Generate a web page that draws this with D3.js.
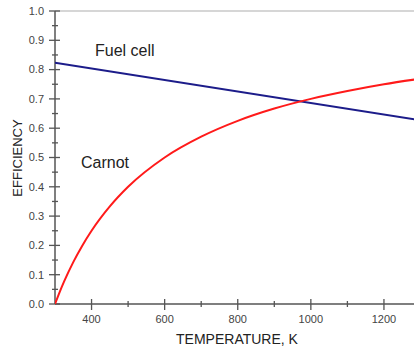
<!DOCTYPE html>
<html>
<head>
<meta charset="utf-8">
<script src="https://cdn.jsdelivr.net/npm/d3@7"></script>
<style>
  body { margin: 0; background: #fff; }
  svg { display: block; font-family: Arial, "Liberation Sans", sans-serif; }
</style>
</head>
<body>
<div id="chart"></div>
<script>
// values
const carnotT = [300, 310, 325, 350, 375, 400, 450, 500, 600, 700, 800, 900, 1000, 1100, 1200, 1300];
const carnotEff = [0, 0.032, 0.077, 0.143, 0.2, 0.25, 0.333, 0.4, 0.5, 0.571, 0.625, 0.667, 0.70, 0.727, 0.75, 0.769];
const fuelT = [300, 1300];
const fuelEff = [0.823, 0.627];
const xTicks = [400, 600, 800, 1000, 1200];
const yTicks = [0, 0.1, 0.2, 0.3, 0.4, 0.5, 0.6, 0.7, 0.8, 0.9, 1.0];

const width = 414, height = 350;
const x = d3.scaleLinear().domain([300, 1300]).range([55, 420.5]);
const y = d3.scaleLinear().domain([0, 1]).range([304, 11]);

const svg = d3.select("#chart").append("svg")
  .attr("width", width)
  .attr("height", height);

const axisColor = "#555";

// top frame line
svg.append("line")
  .attr("x1", x(300)).attr("x2", width)
  .attr("y1", y(1)).attr("y2", y(1))
  .attr("stroke", "#c8c8c8").attr("stroke-width", 1.5);

// y axis
const yAxis = svg.append("g");
yAxis.append("line")
  .attr("x1", x(300)).attr("x2", x(300))
  .attr("y1", y(0)).attr("y2", y(1))
  .attr("stroke", axisColor).attr("stroke-width", 1.5);
yAxis.selectAll(".major")
  .data(yTicks)
  .join("line")
  .attr("x1", x(300) - 6).attr("x2", x(300) + 5)
  .attr("y1", d => y(d)).attr("y2", d => y(d))
  .attr("stroke", axisColor).attr("stroke-width", 1.3);
yAxis.selectAll(".minor")
  .data(d3.range(0, 10).map(i => (i + 0.5) / 10))
  .join("line")
  .attr("x1", x(300) - 3).attr("x2", x(300) + 3)
  .attr("y1", d => y(d)).attr("y2", d => y(d))
  .attr("stroke", axisColor).attr("stroke-width", 1.3);
yAxis.selectAll("text")
  .data(yTicks)
  .join("text")
  .attr("x", x(300) - 11)
  .attr("y", d => y(d))
  .attr("dy", "0.35em")
  .attr("text-anchor", "end")
  .attr("font-size", 11)
  .attr("fill", "#444")
  .text(d3.format(".1f"));

// x axis
const xAxis = svg.append("g");
xAxis.append("line")
  .attr("x1", x(300)).attr("x2", width)
  .attr("y1", y(0)).attr("y2", y(0))
  .attr("stroke", axisColor).attr("stroke-width", 1.5);
xAxis.selectAll(".major")
  .data(xTicks)
  .join("line")
  .attr("x1", d => x(d)).attr("x2", d => x(d))
  .attr("y1", y(0) - 5).attr("y2", y(0) + 6)
  .attr("stroke", axisColor).attr("stroke-width", 1.3);
xAxis.selectAll(".minor")
  .data([500, 700, 900, 1100])
  .join("line")
  .attr("x1", d => x(d)).attr("x2", d => x(d))
  .attr("y1", y(0) - 3).attr("y2", y(0) + 3)
  .attr("stroke", axisColor).attr("stroke-width", 1.3);
xAxis.selectAll("text")
  .data(xTicks)
  .join("text")
  .attr("x", d => x(d))
  .attr("y", y(0) + 19)
  .attr("text-anchor", "middle")
  .attr("font-size", 11)
  .attr("fill", "#444")
  .text(d => d);

// axis titles
svg.append("text")
  .attr("x", 237).attr("y", 344)
  .attr("text-anchor", "middle")
  .attr("font-size", 14)
  .attr("fill", "#222")
  .text("TEMPERATURE, K");
svg.append("text")
  .attr("transform", `translate(22,158) rotate(-90)`)
  .attr("text-anchor", "middle")
  .attr("font-size", 13)
  .attr("fill", "#222")
  .text("EFFICIENCY");

// curves
svg.append("defs").append("clipPath").attr("id", "plot")
  .append("rect").attr("x", x(300)).attr("y", 0).attr("width", width).attr("height", y(0) + 1);

const line = d3.line()
  .x(d => x(d[0]))
  .y(d => y(d[1]))
  .curve(d3.curveMonotoneX);

svg.append("path")
  .datum(d3.zip(fuelT, fuelEff))
  .attr("d", line)
  .attr("fill", "none")
  .attr("stroke", "#1c1c8a")
  .attr("stroke-width", 2)
  .attr("clip-path", "url(#plot)");

svg.append("path")
  .datum(d3.zip(carnotT, carnotEff))
  .attr("d", line)
  .attr("fill", "none")
  .attr("stroke", "#ff1a1a")
  .attr("stroke-width", 2)
  .attr("clip-path", "url(#plot)");

// labels
svg.append("text")
  .attr("x", 95).attr("y", 56)
  .attr("font-size", 16)
  .attr("fill", "#222")
  .text("Fuel cell");
svg.append("text")
  .attr("x", 81).attr("y", 168)
  .attr("font-size", 16)
  .attr("fill", "#222")
  .text("Carnot");
</script>
</body>
</html>
